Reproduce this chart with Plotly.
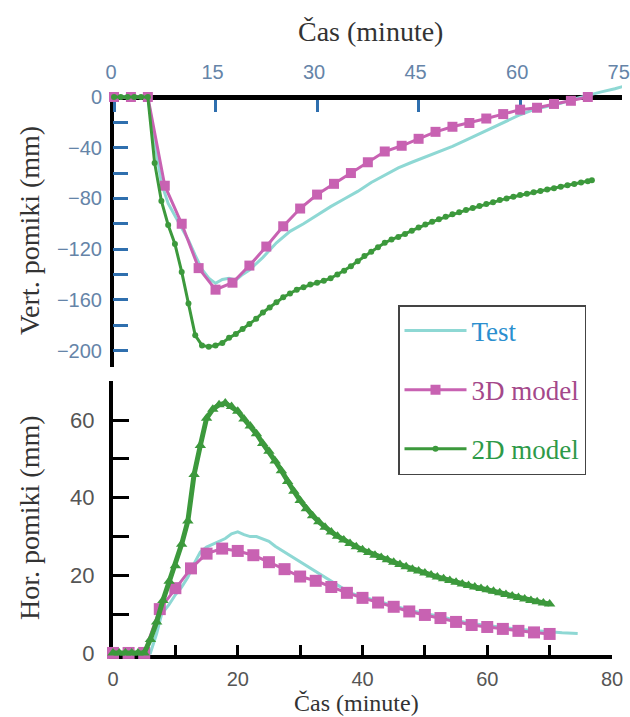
import plotly.graph_objects as go

# ---------------- data ----------------
# Top panel: vertical displacement (mm) vs time (minutes, top axis 0-75)
TOP_T_TEST = [0, 5, 6, 7, 8, 9, 10, 11, 12, 13, 14, 15, 16, 17, 18, 19, 20, 22, 24, 26, 28, 30,
              32, 34, 36, 38, 40, 42, 44, 46, 48, 50, 52, 54, 56, 58, 60, 62, 64, 66, 68, 70, 72, 74, 75.3]
TOP_V_TEST = [0, 0, -35, -68, -84, -94, -104, -113, -125, -136, -143, -147, -144, -143, -144.5, -140, -136.5,
              -126.5, -115, -106, -100, -93, -86.5, -80.5, -74.5, -67.5, -62, -56, -51.5, -47.5, -43, -39,
              -34, -29, -24, -18.5, -14, -10, -7.5, -5, -1.5, 1.5, 4, 6.5, 8.5]

TOP_T_3D = [0, 2.5, 5, 7.5, 10, 12.5, 15, 17.5, 20, 22.5, 25, 27.5, 30, 32.5, 35, 37.5, 40, 42.5, 45,
            47.5, 50, 52.5, 55, 57.5, 60, 62.5, 65, 67.5, 70]
TOP_V_3D = [0, 0, 0, -70, -100, -135, -152, -146.5, -133, -118, -102, -88, -77, -68.5, -60, -51.5, -43,
            -38.5, -33, -27.5, -23.5, -20.5, -17, -13.5, -10, -8.5, -5.5, -3, 0]

TOP_T_2D = [0, 1, 2, 3, 4, 5, 6, 7, 8, 9, 10, 11, 12, 13, 14, 15, 16, 17, 18, 19, 20, 21, 22, 23, 24,
            25, 26, 27, 28, 29, 30, 31, 32, 33, 34, 35, 36, 37, 38, 39, 40, 41, 42, 43, 44, 45, 46, 47,
            48, 49, 50, 51, 52, 53, 54, 55, 56, 57, 58, 59, 60, 61, 62, 63, 64, 65, 66, 67, 68, 69, 70, 70.6]
TOP_V_2D = [0, 0, 0, 0, 0, 0, -52, -82, -101, -116, -138, -163, -188, -196, -197, -196, -194, -190, -187,
            -183, -179, -175, -170, -166, -162, -158, -155, -152, -150, -148, -146.5, -145, -143, -140,
            -137, -133.5, -129.5, -125.5, -122, -118.5, -115, -112.5, -110.5, -108, -105.5, -103, -100.5,
            -98.5, -96.5, -94.5, -92.5, -91, -89.2, -87.6, -86, -84.5, -83, -81.3, -80, -78.7, -77.4,
            -76.3, -75.2, -74.1, -73, -71.9, -70.8, -69.7, -68.6, -67.5, -66.4, -65.7]

# Bottom panel: horizontal displacement (mm) vs time (minutes, bottom axis 0-80)
BOT_T_TEST = [0, 6, 7, 7.8, 9, 10, 11, 12, 13, 14, 15, 16, 17, 18, 19, 20, 21, 22, 23, 24, 25, 26, 27,
              28, 29, 30, 32, 34, 36, 38, 40, 42.5, 45, 47.5, 50, 52.5, 55, 57.5, 60, 62.5, 65, 67.5, 70, 72, 74.5]
BOT_V_TEST = [0, 0, 5, 10, 12.5, 15, 17, 19.5, 23, 26, 27.3, 28, 28.7, 29.5, 30.7, 31.2, 30.5, 30, 30,
              29.5, 28.8, 27.5, 26.5, 25.5, 24.5, 23.5, 21.5, 19.5, 17.5, 15.5, 14.5, 13.3, 12.2, 11,
              10.2, 9.4, 8.4, 7.6, 7.1, 6.6, 6.1, 5.8, 5.4, 5.2, 5]

BOT_T_3D = [0, 2.5, 5, 7.5, 10, 12.5, 15, 17.5, 20, 22.5, 25, 27.5, 30, 32.5, 35, 37.5, 40, 42.5, 45,
            47.5, 50, 52.5, 55, 57.5, 60, 62.5, 65, 67.5, 70]
BOT_V_3D = [0, 0, 0, 11.3, 16.7, 21.8, 25.6, 26.9, 26.3, 25.2, 23.4, 21.6, 19.7, 18.6, 17, 15.5, 14.2,
            13, 11.9, 10.7, 9.8, 9, 8, 7.2, 6.7, 6.2, 5.7, 5.3, 4.9]

BOT_T_2D = [0, 1, 2, 3, 4, 5, 6, 7, 8, 9, 10, 11, 12, 13, 14, 15, 16, 17, 18, 19, 20, 21, 22, 23, 24,
            25, 26, 27, 28, 29, 30, 31, 32, 33, 34, 35, 36, 37, 38, 39, 40, 41, 42, 43, 44, 45, 46, 47,
            48, 49, 50, 51, 52, 53, 54, 55, 56, 57, 58, 59, 60, 61, 62, 63, 64, 65, 66, 67, 68, 69, 70]
BOT_V_2D = [0, 0, 0, 0, 0, 0, 3.5, 8, 13.5, 18.5, 22.5, 28, 34, 46, 53.5, 60.5, 62.8, 64, 64.4, 63.5,
            62.3, 60.3, 58.5, 56.5, 54, 52, 49.5, 47, 44.2, 41.7, 39.3, 37.2, 35.4, 33.8, 32.4, 31.2,
            30.1, 29.1, 28.2, 27.4, 26.6, 25.9, 25.2, 24.6, 24, 23.4, 22.8, 22.2, 21.6, 21.1, 20.6,
            20.1, 19.6, 19.1, 18.7, 18.2, 17.8, 17.4, 17, 16.6, 16.3, 15.9, 15.5, 15.1, 14.7, 14.3,
            13.9, 13.5, 13.2, 12.9, 12.6]

SERIES_NAMES = ["Test", "3D model", "2D model"]
TOP_X_TICKS = [0, 15, 30, 45, 60, 75]

# ---------------- style ----------------
W, H = 630, 717
C_TEST = "#8ed8d4"
C_3D = "#c862b2"
C_2D = "#3c993c"
LEG_TXT = ["#2b8fcf", "#a4488a", "#2e9a48"]
TICK_BLUE = "#2f6fae"
LBL_BLUE = "#6584a8"
LBL_GRAY = "#555555"
SANS = "Liberation Sans, Arial, sans-serif"
SERIF = "Liberation Serif, Times New Roman, serif"


def px_x(p):
    return p / W


def px_y(p):
    return 1 - p / H


fig = go.Figure()

# top panel
fig.add_trace(go.Scatter(x=TOP_T_TEST, y=TOP_V_TEST, mode="lines", xaxis="x", yaxis="y",
                         line=dict(color=C_TEST, width=3), cliponaxis=False,
                         name=f"<span style='color:{LEG_TXT[0]}'>{SERIES_NAMES[0]}</span>",
                         legendgroup="a", showlegend=True))
fig.add_trace(go.Scatter(x=TOP_T_3D, y=TOP_V_3D, mode="lines+markers", xaxis="x", yaxis="y",
                         line=dict(color=C_3D, width=3), marker=dict(symbol="square", size=10, color=C_3D),
                         cliponaxis=False,
                         name=f"<span style='color:{LEG_TXT[1]}'>{SERIES_NAMES[1]}</span>",
                         legendgroup="b", showlegend=True))
fig.add_trace(go.Scatter(x=TOP_T_2D, y=TOP_V_2D, mode="lines+markers", xaxis="x", yaxis="y",
                         line=dict(color=C_2D, width=3), marker=dict(symbol="circle", size=6, color=C_2D),
                         cliponaxis=False,
                         name=f"<span style='color:{LEG_TXT[2]}'>{SERIES_NAMES[2]}</span>",
                         legendgroup="c", showlegend=True))

# bottom panel
fig.add_trace(go.Scatter(x=BOT_T_TEST, y=BOT_V_TEST, mode="lines", xaxis="x2", yaxis="y2",
                         line=dict(color=C_TEST, width=3), cliponaxis=False, showlegend=False))
fig.add_trace(go.Scatter(x=BOT_T_3D, y=BOT_V_3D, mode="lines+markers", xaxis="x2", yaxis="y2",
                         line=dict(color=C_3D, width=3), marker=dict(symbol="square", size=12, color=C_3D),
                         cliponaxis=False, showlegend=False))
fig.add_trace(go.Scatter(x=BOT_T_2D, y=BOT_V_2D, mode="lines+markers", xaxis="x2", yaxis="y2",
                         line=dict(color=C_2D, width=5),
                         marker=dict(symbol="triangle-up", size=10, color=C_2D),
                         cliponaxis=False, showlegend=False))

# top axes: y range [-213, 10] over px [84.3, 367]; x line placed at y=0 (px 97)
fig.update_layout(
    xaxis=dict(domain=[px_x(113), px_x(622)], range=[-0.15, 75.05], anchor="free",
               position=px_y(97), side="top", showline=True, linecolor="black", linewidth=5,
               ticks="inside", ticklen=12, tickwidth=3, tickcolor=TICK_BLUE,
               tickvals=TOP_X_TICKS, showgrid=False, zeroline=False, automargin=False,
               tickfont=dict(family=SANS, size=20, color=LBL_BLUE), ticklabelstandoff=8,
               ticklabelshift=-3, ticklabeloverflow="allow", layer="below traces"),
    yaxis=dict(domain=[px_y(367), px_y(84.3)], range=[-213, 10], anchor="x",
               showline=False, ticks="inside", ticklen=15, tickwidth=3, tickcolor=TICK_BLUE,
               tick0=0, dtick=40, showgrid=False, zeroline=False, automargin=False,
               minor=dict(ticks="inside", dtick=20, ticklen=15, tickwidth=3, tickcolor=TICK_BLUE),
               tickfont=dict(family=SANS, size=20, color=LBL_BLUE), ticklabelstandoff=10,
               layer="below traces"),
    xaxis2=dict(domain=[px_x(113), px_x(612)], range=[0, 80], anchor="y2",
                showline=True, linecolor="black", linewidth=4,
                ticks="inside", ticklen=10, tickwidth=3, tickcolor="black",
                tick0=0, dtick=20, showgrid=False, zeroline=False, automargin=False,
                minor=dict(ticks="inside", dtick=10, ticklen=10, tickwidth=3, tickcolor="black"),
                tickfont=dict(family=SANS, size=20, color=LBL_GRAY), ticklabelstandoff=3,
                ticklabeloverflow="allow", layer="below traces"),
    yaxis2=dict(domain=[px_y(654.9), px_y(381.4)], range=[-0.5, 70], anchor="x2",
                showline=True, linecolor="black", linewidth=4,
                ticks="inside", ticklen=16, tickwidth=3, tickcolor="black",
                tick0=0, dtick=20, showgrid=False, zeroline=False, automargin=False,
                minor=dict(ticks="inside", dtick=10, ticklen=16, tickwidth=3, tickcolor="black"),
                tickfont=dict(family=SANS, size=22, color=LBL_GRAY), ticklabelstandoff=10,
                layer="below traces"),
)

# left axis line of the top panel (spans only the negative range, as in the original)
fig.add_shape(type="line", xref="paper", yref="y", x0=px_x(112), x1=px_x(112), y0=-213, y1=0,
              line=dict(color="black", width=4), layer="below")

# titles
title_font = dict(family=SERIF, size=28, color="#333333")
fig.add_annotation(text="Čas (minute)", x=px_x(370), y=px_y(31), xref="paper", yref="paper",
                   showarrow=False, font=title_font, xanchor="center", yanchor="middle")
fig.add_annotation(text="Čas (minute)", x=px_x(356), y=px_y(703), xref="paper", yref="paper",
                   showarrow=False, font=dict(family=SERIF, size=24, color="#333333"),
                   xanchor="center", yanchor="middle")
fig.add_annotation(text="Vert. pomiki (mm)", x=px_x(29), y=px_y(231), xref="paper", yref="paper",
                   showarrow=False, font=title_font, textangle=-90, xanchor="center", yanchor="middle")
fig.add_annotation(text="Hor. pomiki (mm)", x=px_x(29), y=px_y(518), xref="paper", yref="paper",
                   showarrow=False, font=title_font, textangle=-90, xanchor="center", yanchor="middle")

fig.update_layout(
    width=W, height=H, autosize=False,
    margin=dict(l=0, r=0, t=0, b=0, pad=0, autoexpand=False),
    paper_bgcolor="white", plot_bgcolor="white",
    showlegend=True,
    legend=dict(x=px_x(398), y=px_y(305), xanchor="left", yanchor="top",
                bgcolor="white", bordercolor="#444444", borderwidth=1.5,
                font=dict(family=SERIF, size=27),
                traceorder="grouped", tracegroupgap=21, itemwidth=62),
)

fig.write_html("out.html", config={"displayModeBar": False},
               post_script="document.body.style.margin='0px';document.body.style.overflow='hidden';")
